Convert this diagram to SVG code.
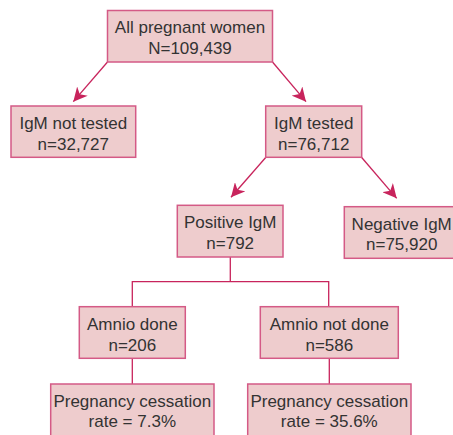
<svg xmlns="http://www.w3.org/2000/svg" width="453" height="435" viewBox="0 0 453 435">
<defs>
<style>
.box rect{fill:#eecccd;stroke:#d45a86;stroke-width:1.5}
.box text{font-family:"Liberation Sans",Arial,sans-serif;font-size:17px;fill:#333;text-anchor:middle}
.conn path,.conn line{stroke:#c8245c;stroke-width:1.3;fill:none}
</style>
<marker id="ah" markerUnits="userSpaceOnUse" markerWidth="14" markerHeight="14" viewBox="0 0 12 12" refX="12" refY="6" orient="auto">
<path d="M0,0 L12,6 L0,12 L3.5,6 z" fill="#c8245c"/>
</marker>
</defs>
<rect width="453" height="435" fill="#fff"/>
<g class="conn">
<line x1="107.5" y1="62" x2="73.3" y2="101.7" marker-end="url(#ah)"/>
<line x1="272.5" y1="62" x2="306" y2="101.7" marker-end="url(#ah)"/>
<line x1="265.7" y1="157.5" x2="231" y2="197.3" marker-end="url(#ah)"/>
<line x1="361.7" y1="157.5" x2="396.7" y2="198.3" marker-end="url(#ah)"/>
<path d="M230.3,257 V281.7 M132.3,306.7 V281.7 H328.7 V306.7"/>
<path d="M132.3,358.3 V384 M329.3,358.3 V384"/>
</g>
<g id="n-all" class="box"><rect x="107.5" y="10.5" width="165" height="51.5"/><text x="190" y="33.3">All pregnant women</text><text x="190" y="54">N=109,439</text></g>
<g id="n-nottested" class="box"><rect x="11" y="106" width="124.7" height="51.3"/><text x="73.3" y="129">IgM not tested</text><text x="73.3" y="150">n=32,727</text></g>
<g id="n-tested" class="box"><rect x="265.7" y="106" width="96" height="51.3"/><text x="313.7" y="129">IgM tested</text><text x="313.7" y="150">n=76,712</text></g>
<g id="n-pos" class="box"><rect x="177.3" y="205.3" width="105.7" height="51.7"/><text x="230.2" y="228.3">Positive IgM</text><text x="230.2" y="249">n=792</text></g>
<g id="n-neg" class="box"><rect x="344.3" y="206.7" width="115" height="51.6"/><text x="401.7" y="229.5">Negative IgM</text><text x="401.7" y="250.3">n=75,920</text></g>
<g id="n-amnio" class="box"><rect x="79.3" y="306.7" width="106" height="51.6"/><text x="132.3" y="330">Amnio done</text><text x="132.3" y="350.7">n=206</text></g>
<g id="n-noamnio" class="box"><rect x="260.3" y="306.7" width="138" height="51.6"/><text x="329.3" y="330">Amnio not done</text><text x="329.3" y="350.7">n=586</text></g>
<g id="n-rate1" class="box"><rect x="50.7" y="384" width="163.3" height="60"/><text x="132.3" y="406.7">Pregnancy cessation</text><text x="132.3" y="427.3">rate = 7.3%</text></g>
<g id="n-rate2" class="box"><rect x="247.7" y="384" width="163.3" height="60"/><text x="329.3" y="406.7">Pregnancy cessation</text><text x="329.3" y="427.3">rate = 35.6%</text></g>
</svg>
